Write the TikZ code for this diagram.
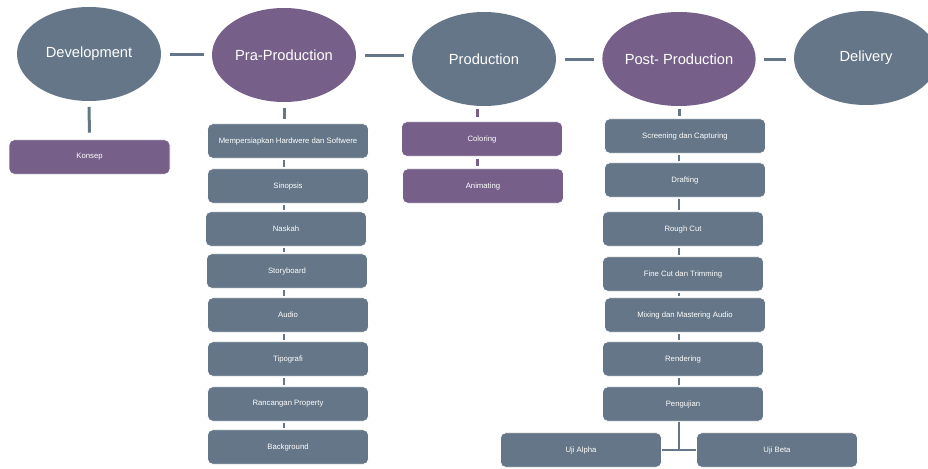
\documentclass[tikz,border=0pt]{standalone}
\usepackage{fontspec}
\setmainfont{Liberation Sans}
\usetikzlibrary{shapes.geometric}
\definecolor{slate}{HTML}{647687}
\definecolor{plum}{HTML}{76608A}
\tikzset{every picture/.style={line width=0.75pt}}

\begin{document}
\begin{tikzpicture}[x=0.75pt,y=0.75pt,yscale=-1,xscale=1,
  stage/.style={ellipse,draw=none,minimum width=108pt,minimum height=70.5pt,inner sep=0pt,text=white,font=\fontsize{11}{13}\selectfont},
  task/.style={rectangle,rounded corners=4pt,draw=white,line width=0.5pt,minimum width=120.75pt,minimum height=25.9pt,inner sep=0pt,text=white,font=\fontsize{5.8}{7}\selectfont},
  link/.style={color=slate,line width=2.25pt,shorten <=6pt,shorten >=6pt},
  drop/.style={line width=2.25pt,shorten <=4pt,shorten >=3pt},
  tick/.style={color=slate,line width=2pt,shorten <=1.3pt,shorten >=1.3pt}]
\useasboundingbox (0,0) rectangle (928,468);

%Shape: Ellipse -- stages
\node [stage,fill=slate] (dev) at (89,54) {Development};
\node [stage,fill=plum] (pra) at (284,55) {Pra-Production};
\node [stage,fill=slate] (prod) at (484,59) {Production};
\node [stage,fill=plum] (post) at (679,59) {Post- Production};
\node [stage,fill=slate] (del) at (866,58) {Delivery};

%Straight Lines -- between stages
\draw [link] (dev.east) -- (dev.east -| pra.west);
\draw [link] (pra.east) -- (pra.east -| prod.west);
\draw [link] (prod.east) -- (prod.east -| post.west);
\draw [link] (post.east) -- (post.east -| del.west);

% Development
\node [task,fill=plum] (kon) at (89.5,157) {Konsep};
\draw [drop,color=slate,shorten >=5pt] (dev.south) -- (kon.north);

% Pra-Production
\node [task,fill=slate] (mem) at (288,141) {Mempersiapkan Hardwere dan Softwere};
\node [task,fill=slate] (sin) at (288,186) {Sinopsis};
\node [task,fill=slate] (nas) at (286,229) {Naskah};
\node [task,fill=slate] (sto) at (287,271) {Storyboard};
\node [task,fill=slate] (aud) at (288,315) {Audio};
\node [task,fill=slate] (tip) at (288,359) {Tipografi};
\node [task,fill=slate] (ran) at (288,404) {Rancangan Property};
\node [task,fill=slate] (bg) at (288,447) {Background};
\draw [drop,color=slate] (pra.south) -- (mem.north -| pra);
\foreach \a/\b in {mem/sin,sin/nas,nas/sto,sto/aud,aud/tip,tip/ran,ran/bg}
  \draw [tick] (\a.south -| pra) -- (\b.north -| pra);

% Production
\node [task,fill=plum] (col) at (482,139) {Coloring};
\node [task,fill=plum] (ani) at (483,186) {Animating};
\draw [drop,color=plum,shorten <=1.5pt] (prod.south -| 477,0) -- (col.north -| 477,0);
\draw [tick,color=plum,line width=2.25pt,shorten <=2pt,shorten >=2pt] (col.south -| 477,0) -- (ani.north -| 477,0);

% Post-Production
\node [task,fill=slate] (scr) at (685,136) {Screening dan Capturing};
\node [task,fill=slate] (dra) at (685,180) {Drafting};
\node [task,fill=slate] (rou) at (683,229) {Rough Cut};
\node [task,fill=slate] (fin) at (683,274) {Fine Cut dan Trimming};
\node [task,fill=slate] (mix) at (685,315) {Mixing dan Mastering Audio};
\node [task,fill=slate] (ren) at (683,359) {Rendering};
\node [task,fill=slate] (pen) at (683,404) {Pengujian};
\node [task,fill=slate] (alp) at (581,450) {Uji Alpha};
\node [task,fill=slate] (bet) at (777,450) {Uji Beta};
\draw [drop,color=slate,shorten <=2pt,shorten >=1.5pt] (post.south) -- (scr.north -| post);
\foreach \a/\b in {scr/dra,dra/rou,rou/fin,fin/mix,mix/ren,ren/pen}
  \draw [tick] (\a.south -| post) -- (\b.north -| post);

%Straight Lines -- test branches
\draw [color=slate,line width=1.5pt] (pen.south -| post) -- (alp.east -| post);
\draw [color=slate,line width=1.5pt] (alp.east) -- (bet.west);

\end{tikzpicture}
\end{document}
